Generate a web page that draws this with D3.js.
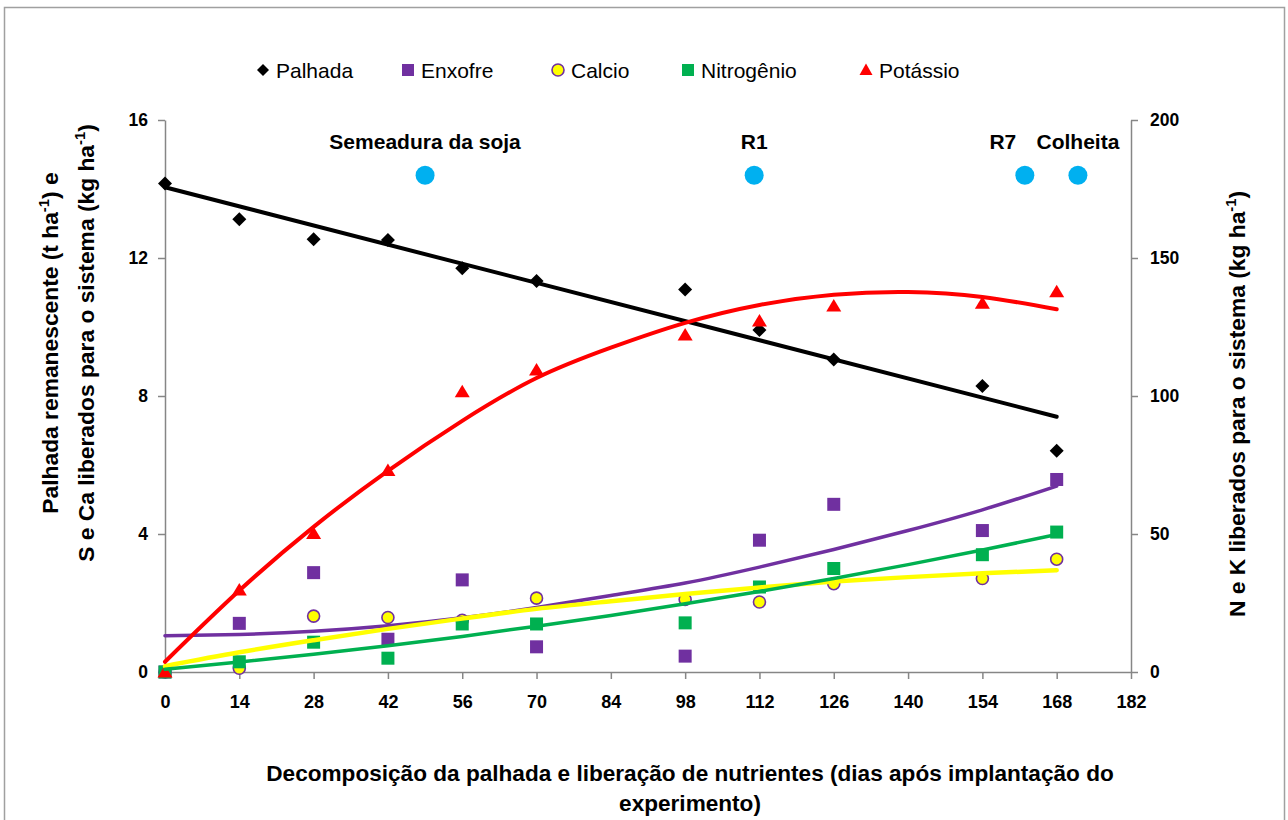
<!DOCTYPE html>
<html>
<head>
<meta charset="utf-8">
<script src="https://cdn.jsdelivr.net/npm/d3@7"></script>
<style>
  html, body { margin: 0; padding: 0; background: #fff; }
  svg { display: block; font-family: 'Liberation Sans', Arial, sans-serif; }
</style>
</head>
<body>
<svg id="chart" width="1288" height="820"></svg>
<script>
// ---------- data ----------
const dias = [0, 14, 28, 42, 56, 70, 98, 112, 126, 154, 168];
const palhada    = [14.16, 13.12, 12.54, 12.52, 11.70, 11.33, 11.09, 9.91, 9.06, 8.29, 6.41];
const enxofre    = [0, 1.41, 2.88, 0.95, 2.67, 0.73, 0.46, 3.82, 4.86, 4.10, 5.58];
const calcio     = [0, 0.11, 1.62, 1.58, 1.50, 2.14, 2.10, 2.03, 2.56, 2.71, 3.27];
const nitrogenio = [0, 3.7, 10.8, 5.0, 17.4, 17.4, 17.8, 30.8, 37.5, 42.5, 50.7];
const potassio   = [0, 29.7, 50.2, 73.0, 101.5, 109.4, 122.1, 127.2, 132.6, 133.6, 137.8];

// trend lines
const tendDias = [0, 14, 28, 42, 56, 70, 84, 98, 112, 126, 140, 154, 168];
const palhadaTendDias = [0, 168];
const palhadaTend    = [14.05, 7.40];
const enxofreTend    = [1.05, 1.09, 1.18, 1.34, 1.57, 1.87, 2.22, 2.58, 3.04, 3.55, 4.10, 4.70, 5.39];
const calcioTend     = [0.17, 0.57, 0.92, 1.25, 1.55, 1.83, 2.05, 2.26, 2.45, 2.62, 2.75, 2.86, 2.95];
const nitrogenioTend = [1.0, 3.6, 6.4, 9.5, 12.9, 16.6, 20.5, 24.7, 29.2, 33.9, 38.9, 44.2, 49.8];
const potassioTend   = [3.7, 29.5, 52.6, 72.9, 91.0, 106.5, 117.5, 126.5, 133.0, 136.7, 137.7, 135.9, 131.4];

// phenology markers
const estadioNomes = ["Semeadura da soja", "R1", "R7", "Colheita"];
const estadioDias  = [49, 111, 162, 172];
const estadioNivel = [14.4, 14.4, 14.4, 14.4];

const xTicks = [0, 14, 28, 42, 56, 70, 84, 98, 112, 126, 140, 154, 168, 182];
const yLeftTicks = [0, 4, 8, 12, 16];
const yRightTicks = [0, 50, 100, 150, 200];
const legendNames = ["Palhada", "Enxofre", "Calcio", "Nitrogênio", "Potássio"];

(function () {
// ---------- layout ----------
const svg = d3.select("#chart");
const pl = 165, pr = 1131, pt = 120, pb = 672;
const x  = d3.scaleLinear().domain([0, 182]).range([pl, pr]);
const yL = d3.scaleLinear().domain([0, 16]).range([pb, pt]);
const yR = d3.scaleLinear().domain([0, 200]).range([pb, pt]);

const C = { palhada: "#000000", enxofre: "#7030A0", calcio: "#FFFF00", calcioEdge: "#7030A0",
            nitro: "#00B050", potassio: "#FF0000", estadio: "#00B0F0", axis: "#868686" };

// chart border
svg.append("rect").attr("x", 4.5).attr("y", 7.5).attr("width", 1280).attr("height", 840)
  .attr("fill", "none").attr("stroke", "#a0a0a0").attr("stroke-width", 1.5);

// ---------- axes ----------
function styleAxis(g, fs) {
  g.selectAll(".domain").attr("stroke", C.axis).attr("stroke-width", 1.5);
  g.selectAll(".tick line").attr("stroke", C.axis).attr("stroke-width", 1.5);
  g.selectAll(".tick text").attr("fill", "#000").attr("font-weight", "bold")
    .attr("font-family", "'Liberation Sans', Arial, sans-serif").attr("font-size", fs);
}
const gx = svg.append("g").attr("transform", `translate(0,${pb})`)
  .call(d3.axisBottom(x).tickValues(xTicks).tickSize(7).tickSizeOuter(0).tickPadding(16).tickFormat(d3.format("d")));
styleAxis(gx, 18);

const gl = svg.append("g").attr("transform", `translate(${pl},0)`)
  .call(d3.axisLeft(yL).tickValues(yLeftTicks).tickSize(7).tickSizeOuter(0).tickPadding(10).tickFormat(d3.format("d")));
styleAxis(gl, 17.5);

const gr = svg.append("g").attr("transform", `translate(${pr},0)`)
  .call(d3.axisRight(yR).tickValues(yRightTicks).tickSize(7).tickSizeOuter(0).tickPadding(12).tickFormat(d3.format("d")));
styleAxis(gr, 17.5);

// ---------- markers ----------
const diamond = "M0,-7L7,0L0,7L-7,0Z";
const triangle = "M0,-7L7.5,5.5L-7.5,5.5Z";
function pts(vals) { return dias.map((d, i) => ({ d, v: vals[i] })); }

svg.append("g").selectAll("path").data(pts(palhada)).join("path")
  .attr("d", diamond).attr("transform", p => `translate(${x(p.d)},${yL(p.v)})`).attr("fill", C.palhada);
svg.append("g").selectAll("rect").data(pts(enxofre)).join("rect")
  .attr("x", p => x(p.d) - 6.5).attr("y", p => yL(p.v) - 6.5).attr("width", 13).attr("height", 13)
  .attr("fill", C.enxofre);
svg.append("g").selectAll("circle").data(pts(calcio)).join("circle")
  .attr("cx", p => x(p.d)).attr("cy", p => yL(p.v)).attr("r", 6)
  .attr("fill", C.calcio).attr("stroke", C.calcioEdge).attr("stroke-width", 1.6);
svg.append("g").selectAll("rect").data(pts(nitrogenio)).join("rect")
  .attr("x", p => x(p.d) - 6.5).attr("y", p => yR(p.v) - 6.5).attr("width", 13).attr("height", 13)
  .attr("fill", C.nitro);
svg.append("g").selectAll("path").data(pts(potassio)).join("path")
  .attr("d", triangle).attr("transform", p => `translate(${x(p.d)},${yR(p.v)})`).attr("fill", C.potassio);

// ---------- trend lines ----------
function trend(days, vals, yScale, color, width) {
  const line = d3.line().x((d, i) => x(days[i])).y((d, i) => yScale(vals[i])).curve(d3.curveNatural);
  svg.append("path").datum(vals).attr("d", line).attr("fill", "none")
    .attr("stroke", color).attr("stroke-width", width).attr("stroke-linecap", "round");
}
trend(palhadaTendDias, palhadaTend, yL, C.palhada, 4);
trend(tendDias, enxofreTend, yL, C.enxofre, 3.5);
trend(tendDias, calcioTend, yL, C.calcio, 4.5);
trend(tendDias, nitrogenioTend, yR, C.nitro, 3.5);
trend(tendDias, potassioTend, yR, C.potassio, 4);

// ---------- phenology stages ----------
const labelDx = [0, 0, -22, 0];
const est = estadioNomes.map((n, i) => ({ n, d: estadioDias[i], v: estadioNivel[i], dx: labelDx[i] }));
svg.append("g").selectAll("circle").data(est).join("circle")
  .attr("cx", e => x(e.d)).attr("cy", e => yL(e.v)).attr("r", 9.5).attr("fill", C.estadio);
svg.append("g").selectAll("text").data(est).join("text")
  .attr("x", e => x(e.d) + e.dx).attr("y", e => yL(e.v) - 26)
  .attr("text-anchor", "middle").attr("font-weight", "bold").attr("font-size", 21)
  .text(e => e.n);

// ---------- legend ----------
const legendMarkX = [263, 408, 558, 688, 866];
const lg = svg.append("g");
const ly = 70;
legendNames.forEach((name, i) => {
  const mx = legendMarkX[i];
  if (i === 0) lg.append("path").attr("d", "M0,-6L6,0L0,6L-6,0Z").attr("transform", `translate(${mx},${ly})`).attr("fill", C.palhada);
  if (i === 1) lg.append("rect").attr("x", mx - 6).attr("y", ly - 6).attr("width", 12).attr("height", 12).attr("fill", C.enxofre);
  if (i === 2) lg.append("circle").attr("cx", mx).attr("cy", ly).attr("r", 6).attr("fill", C.calcio).attr("stroke", C.calcioEdge).attr("stroke-width", 1.6);
  if (i === 3) lg.append("rect").attr("x", mx - 6).attr("y", ly - 6).attr("width", 12).attr("height", 12).attr("fill", C.nitro);
  if (i === 4) lg.append("path").attr("d", "M0,-6.5L6.5,5L-6.5,5Z").attr("transform", `translate(${mx},${ly})`).attr("fill", C.potassio);
  lg.append("text").attr("x", mx + 13).attr("y", ly).attr("dy", "0.36em")
    .attr("font-size", 21).attr("fill", "#000").text(name);
});

// ---------- axis titles ----------
function supText(t, parts, fs) {
  parts.forEach(p => {
    if (p.sup) t.append("tspan").attr("font-size", fs * 0.65).attr("dy", -fs * 0.38).text(p.t);
    else if (p.after) t.append("tspan").attr("font-size", fs).attr("dy", fs * 0.38).text(p.t);
    else t.append("tspan").attr("font-size", fs).text(p.t);
  });
}
const tfs = 22.8;
const lt = svg.append("g").attr("transform", "translate(0,343) rotate(-90)");
const l1 = lt.append("text").attr("x", 0).attr("y", 50).attr("dy", "0.35em").attr("text-anchor", "middle")
  .attr("font-weight", "bold").attr("font-size", tfs);
supText(l1, [{ t: "Palhada remanescente (t ha" }, { t: "-1", sup: true }, { t: ") e", after: true }], tfs);
const l2 = lt.append("text").attr("x", 0).attr("y", 86).attr("dy", "0.35em").attr("text-anchor", "middle")
  .attr("font-weight", "bold").attr("font-size", tfs);
supText(l2, [{ t: "S e Ca liberados para o sistema (kg ha" }, { t: "-1", sup: true }, { t: ")", after: true }], tfs);

const rt = svg.append("g").attr("transform", "translate(1237,404) rotate(-90)");
const r1 = rt.append("text").attr("x", 0).attr("y", 0).attr("dy", "0.35em").attr("text-anchor", "middle")
  .attr("font-weight", "bold").attr("font-size", tfs);
supText(r1, [{ t: "N e K liberados para o sistema (kg ha" }, { t: "-1", sup: true }, { t: ")", after: true }], tfs);

svg.append("text").attr("x", 690).attr("y", 773).attr("dy", "0.35em").attr("text-anchor", "middle")
  .attr("font-weight", "bold").attr("font-size", 22.6)
  .text("Decomposição da palhada e liberação de nutrientes (dias após implantação do");
svg.append("text").attr("x", 690).attr("y", 803).attr("dy", "0.35em").attr("text-anchor", "middle")
  .attr("font-weight", "bold").attr("font-size", 22.6)
  .text("experimento)");
})();
</script>
</body>
</html>
